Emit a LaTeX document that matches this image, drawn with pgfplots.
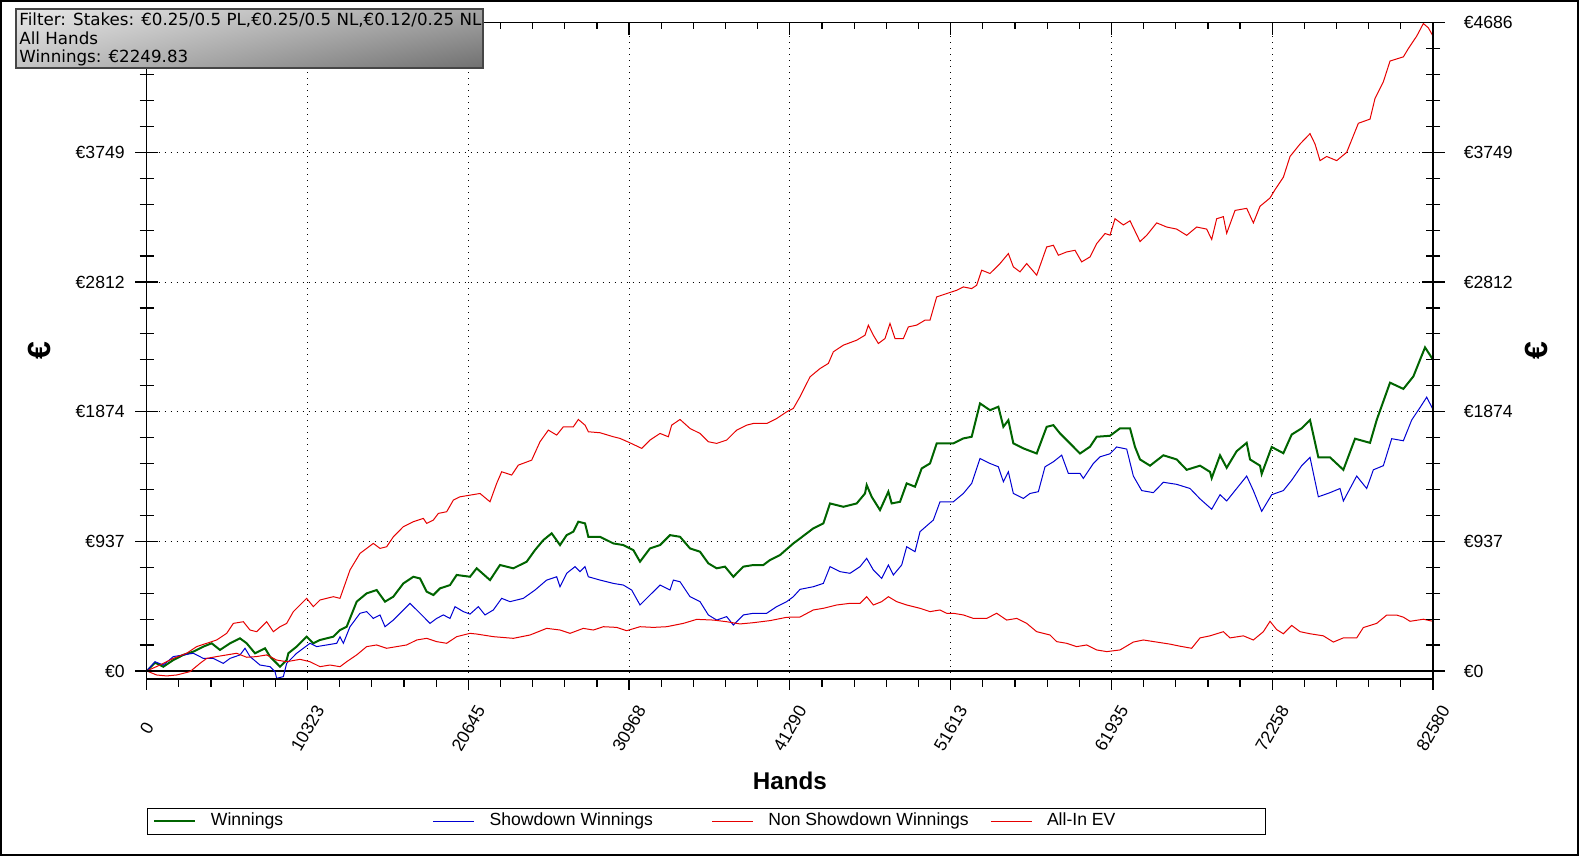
\documentclass[border=0pt]{standalone}
\usepackage{fontspec}
\setmainfont{Liberation Sans}
\newfontfamily\verd{DejaVu Sans}
\usepackage{pgfplots}
\pgfplotsset{compat=1.18}
\usetikzlibrary{shadings}
\definecolor{wgreen}{RGB}{0,100,0}
\definecolor{sblue}{RGB}{0,0,210}
\definecolor{nred}{RGB}{230,0,0}
\definecolor{bxUL}{RGB}{232,232,232}
\definecolor{bxUR}{RGB}{165,165,165}
\definecolor{bxLL}{RGB}{195,195,195}
\definecolor{bxLR}{RGB}{112,112,112}
\definecolor{bxB}{RGB}{70,70,70}
\begin{document}
\begin{tikzpicture}
\useasboundingbox (0,0) rectangle (789.5pt,428pt);
\pgfplotsset{common/.style={scale only axis, width=643.15pt, height=328.15pt,
  at={(73.35pt,88.5pt)}, anchor=south west,
  xmin=0, xmax=82580, ymin=-58, ymax=4686,
  scaled x ticks=false, scaled y ticks=false,
  axis line style={line width=0.6pt, black},
  tick style={line width=0.6pt, black},
  tick label style={font=\fontsize{8.8}{10}\selectfont}}}
% main axis: data, grid, bottom ticks, left labels, legend
\begin{axis}[common,
  xtick={0,10322.5,20645,30967.5,41290,51612.5,61935,72257.5,82580},
  xticklabels={0,10323,20645,30968,41290,51613,61935,72258,82580},
  minor x tick num=4, xtick pos=bottom, xtick align=outside,
  major tick length=5.5pt, minor tick length=4pt,
  xticklabel style={yshift=-19.2pt, rotate=60, anchor=center},
  ytick={0,937.2,1874.4,2811.6,3748.8,4686},
  yticklabels={€0,€937,€1874,€2812,€3749,{}},
  ytick pos=left, ytick style={draw=none},
  yticklabel style={xshift=-7.5pt},
  grid=major,
  major grid style={black, line width=0.5pt, dash pattern=on 0.5pt off 2.5pt},
  xlabel={Hands},
  xlabel style={at={(axis description cs:0.5,-0.1554)}, anchor=center, font=\bfseries\fontsize{12.1}{14}\selectfont},
  ylabel={€},
  ylabel style={at={(axis description cs:-0.083,0.5)}, anchor=center, font=\bfseries\fontsize{16}{18}\selectfont},
  legend style={at={(0,-0.19656)}, anchor=north west, draw=black, line width=0.5pt,
    inner xsep=3pt, inner ysep=2.35pt, legend columns=4,
    font=\fontsize{8.8}{10}\selectfont,
    nodes={inner sep=0pt, text height=6.3pt, text depth=1.9pt},
    /tikz/every odd column/.style={column sep=7.35pt},
    /tikz/every even column/.style={column sep=0pt}},
  legend cell align=left,
  legend image code/.code={\draw[#1] (0pt,0pt) -- (20.5pt,0pt);},
]
\draw[line width=0.6pt, black] (axis cs:0,0) -- (axis cs:82580,0);
\addplot[wgreen, line width=1pt] coordinates {
(0,0) (533,60) (1068,31) (1710,79) (2352,116) (2994,140) (3636,176) (4171,200) (4706,152) (5348,200)
(5990,236) (6418,200) (6953,128) (7595,164) (7916,104) (8558,31) (8986,79) (9093,128) (9628,176) (10270,248)
(10698,200) (11126,224) (11982,248) (12410,296) (12838,320) (13480,501) (14122,561) (14764,585) (15299,501) (15834,537)
(16476,633) (17118,681) (17546,669) (17974,573) (18402,549) (18830,597) (19472,621) (19900,694) (20756,681) (21184,742)
(22040,657) (22682,766) (23538,742) (24394,790) (24929,874) (25464,946) (25999,995) (26534,910) (26962,982) (27390,1007)
(27711,1079) (28139,1067) (28353,970) (29102,970) (29958,922) (30600,910) (31242,874) (31670,790) (32312,886) (32954,910)
(33596,982) (34238,970) (34880,886) (35522,862) (36057,778) (36592,742) (37127,754) (37662,681) (38304,754) (38946,766)
(39588,766) (40016,802) (40658,838) (41514,922) (41942,958) (42798,1031) (43440,1067) (43868,1211) (44724,1187) (45580,1211)
(46115,1283) (46222,1344) (46543,1259) (47078,1163) (47613,1296) (47827,1211) (48362,1223) (48790,1356) (49325,1332) (49753,1464)
(50288,1500) (50716,1645) (51358,1645) (51786,1645) (52428,1681) (52963,1693) (53498,1934) (54140,1885) (54675,1910) (54996,1765)
(55317,1813) (55638,1645) (56280,1609) (57136,1572) (57778,1765) (58206,1777) (58634,1717) (59276,1645) (59918,1572) (60560,1621)
(60988,1693) (61844,1700) (62486,1754) (63128,1754) (63449,1619) (63770,1529) (64412,1484) (65268,1559) (66124,1529) (66766,1454)
(67622,1484) (68264,1439) (68371,1394) (68906,1559) (69334,1469) (69976,1589) (70618,1649) (70832,1529) (71474,1484) (71581,1424)
(72223,1619) (72972,1574) (73507,1709) (74149,1754) (74684,1814) (75219,1544) (75968,1544) (76824,1454) (77573,1679) (78536,1649)
(78964,1814) (79820,2084) (80676,2039) (81318,2129) (82067,2339) (82580,2250)
};
\addlegendentry{\makebox[111pt][l]{Winnings}}
\addplot[sblue, line width=0.5pt] coordinates {
(0,0) (533,67) (1068,43) (1710,104) (2352,116) (2994,128) (3636,91) (4278,91) (4920,55) (5348,91)
(5990,116) (6311,164) (6632,104) (7274,43) (7916,31) (8237,-5) (8344,-53) (8772,-41) (8986,55) (9628,128)
(10056,164) (10484,200) (10912,176) (11554,188) (12196,200) (12410,248) (12624,200) (13052,320) (13694,417) (14122,429)
(14550,380) (14978,405) (15299,320) (15834,368) (16476,441) (16904,489) (17332,441) (17760,393) (18188,344) (18616,380)
(19044,405) (19472,380) (19793,465) (20328,429) (20756,411) (21291,465) (21719,405) (22254,441) (22789,525) (23324,501)
(24180,525) (24929,585) (25678,657) (26320,681) (26534,609) (26962,706) (27497,754) (27818,718) (28139,754) (28353,681)
(29102,657) (29958,633) (30600,621) (31135,585) (31670,477) (32312,549) (32954,621) (33596,585) (33810,657) (34238,645)
(34880,537) (35522,501) (36057,405) (36592,368) (37234,393) (37662,332) (38304,405) (38946,417) (39802,417) (40444,465)
(41086,501) (41514,537) (41942,590) (42798,609) (43440,633) (43868,754) (44510,718) (45152,706) (45794,754) (46222,814)
(46650,730) (47185,669) (47613,766) (47934,694) (48469,766) (48790,898) (49325,862) (49646,1007) (50502,1091) (50930,1223)
(51786,1223) (52428,1283) (52963,1356) (53498,1536) (54140,1500) (54675,1476) (54996,1368) (55317,1440) (55638,1283) (56280,1247)
(56708,1283) (57243,1296) (57671,1476) (58206,1512) (58741,1560) (59169,1428) (59918,1428) (60132,1392) (60774,1500) (61202,1548)
(61844,1570) (62272,1619) (62914,1604) (63342,1409) (63877,1304) (64626,1289) (65268,1364) (66124,1349) (66980,1319) (67622,1244)
(68371,1169) (68906,1274) (69334,1229) (69976,1319) (70618,1409) (71046,1304) (71581,1154) (72223,1274) (72972,1304) (73507,1379)
(74149,1484) (74684,1544) (75219,1259) (75968,1289) (76610,1319) (76824,1229) (77680,1409) (78322,1319) (78750,1454) (79392,1484)
(79927,1679) (80676,1664) (81211,1814) (81746,1904) (82174,1979) (82580,1890)
};
\addlegendentry{\makebox[111pt][l]{Showdown Winnings}}
\addplot[nred, line width=0.5pt] coordinates {
(0,0) (640,-29) (1282,-36) (1924,-29) (2780,-5) (3422,55) (3850,91) (4492,104) (5134,116) (5776,128)
(6418,99) (7060,104) (7702,116) (8344,79) (8986,67) (9842,84) (10484,67) (11126,31) (11768,43) (12410,31)
(12838,67) (13480,116) (14122,176) (14764,188) (15406,164) (16048,176) (16690,188) (17332,224) (17974,236) (18616,212)
(19258,200) (19900,248) (20756,272) (21184,267) (22254,248) (23538,236) (24608,260) (25678,308) (26534,296) (27176,272)
(28032,308) (28674,296) (29316,320) (30172,315) (30814,291) (31670,320) (32526,315) (33382,320) (34452,344) (35308,373)
(36378,368) (37234,356) (38090,340) (38946,349) (40016,364) (41086,388) (41942,390) (42798,441) (43440,453) (44296,477)
(45152,489) (45794,489) (46222,537) (46650,477) (47185,501) (47613,537) (48148,501) (48790,477) (49646,453) (50288,429)
(50930,441) (51358,417) (51786,417) (52428,405) (53070,380) (53926,380) (54568,417) (55210,368) (55852,380) (56494,344)
(57136,284) (57992,260) (58420,212) (59062,200) (59704,176) (60346,188) (60988,152) (61630,140) (62486,152) (63342,209)
(63984,224) (64840,209) (65696,194) (66338,179) (67087,164) (67622,239) (68264,254) (69120,284) (69548,239) (70404,254)
(71046,224) (71688,284) (72116,359) (72544,299) (72972,269) (73507,329) (74042,284) (74684,269) (75540,254) (76182,209)
(76824,239) (77680,239) (78108,314) (78964,344) (79606,404) (80248,404) (80676,389) (81104,359) (81960,374) (82580,359)
};
\addlegendentry{\makebox[111pt][l]{Non Showdown Winnings}}
\addplot[nred, line width=0.5pt] coordinates {
(0,0) (854,43) (1710,91) (2566,128) (3208,176) (3850,200) (4492,224) (5134,272) (5562,344) (6204,356)
(6632,296) (7060,284) (7702,356) (8130,284) (8558,320) (8986,344) (9414,429) (10270,525) (10698,465) (11126,513)
(11982,537) (12410,525) (13052,730) (13694,850) (14550,922) (14978,886) (15406,898) (15834,970) (16476,1043) (17118,1079)
(17760,1103) (17974,1067) (18402,1091) (18723,1139) (19258,1151) (19686,1235) (20114,1259) (20756,1271) (21398,1283) (22040,1223)
(22468,1356) (22789,1440) (23431,1416) (23859,1488) (24715,1524) (25250,1657) (25785,1741) (26320,1705) (26748,1765) (27390,1765)
(27711,1818) (28139,1777) (28353,1729) (29102,1722) (29958,1693) (30386,1681) (31028,1649) (31777,1609) (32312,1669) (32954,1717)
(33489,1693) (33703,1777) (34238,1818) (34880,1753) (35522,1717) (36057,1657) (36592,1645) (37234,1669) (37876,1741) (38518,1777)
(38946,1789) (39802,1789) (40444,1825) (41086,1873) (41514,1898) (41942,1982) (42584,2126) (43226,2186) (43761,2223) (44082,2307)
(44724,2355) (45580,2391) (46115,2427) (46329,2500) (46650,2427) (46971,2367) (47399,2403) (47720,2512) (48041,2403) (48576,2403)
(48897,2487) (49432,2500) (49967,2536) (50288,2536) (50716,2704) (51358,2728) (52000,2752) (52428,2776) (52963,2764) (53284,2788)
(53605,2897) (54140,2873) (54782,2945) (55317,3017) (55638,2921) (56066,2885) (56494,2945) (57136,2861) (57778,3065) (58206,3077)
(58527,3005) (59062,3029) (59597,3041) (60025,2957) (60560,2993) (60988,3089) (61523,3162) (61844,3150) (62165,3269) (62700,3224)
(63128,3254) (63449,3179) (63770,3104) (64198,3149) (64840,3239) (65482,3209) (66124,3194) (66766,3149) (67408,3209) (68050,3194)
(68371,3119) (68692,3269) (69120,3284) (69334,3164) (69869,3329) (70618,3344) (71046,3239) (71474,3359) (72116,3419) (72437,3479)
(72972,3569) (73400,3719) (74042,3809) (74684,3884) (75005,3809) (75326,3689) (75754,3719) (76396,3689) (77038,3749) (77466,3869)
(77787,3959) (78536,3989) (78857,4139) (79392,4259) (79820,4409) (80676,4439) (80997,4499) (81532,4589) (81960,4680) (82281,4649)
(82580,4589)
};
\addlegendentry{\makebox[106pt][l]{All-In EV}}
\end{axis}
% y ticks on both sides, right labels
\begin{axis}[common,
  xtick=\empty,
  ytick={0,937.2,1874.4,2811.6,3748.8,4686},
  yticklabels={€0,€937,€1874,€2812,€3749,€4686},
  ytick pos=both, yticklabel pos=right, ytick align=center,
  minor y tick num=4, major tick length=11.5pt, minor tick length=7pt,
  yticklabel style={xshift=6.1pt},
  ylabel={€},
  ylabel style={at={(axis description cs:1.0801,0.5)}, anchor=center, rotate=0, font=\bfseries\fontsize{16}{18}\selectfont},
]
\end{axis}
% top x ticks pointing inside
\begin{axis}[common,
  ytick=\empty,
  xtick={0,10322.5,20645,30967.5,41290,51612.5,61935,72257.5,82580},
  xticklabels={},
  minor x tick num=4, xtick pos=top, xtick align=inside,
  major tick length=6pt, minor tick length=3.3pt,
]
\end{axis}
% filter box
\shade[upper left=bxUL, upper right=bxUR, lower left=bxLL, lower right=bxLR] (8pt,394pt) rectangle (241.5pt,423.5pt);
\draw[bxB, line width=0.6pt] (8pt,394pt) rectangle (241.5pt,423.5pt);
\begin{scope}[every node/.style={anchor=base west, inner sep=0pt, font=\verd\fontsize{8.35}{10}\selectfont}]
\node at (9.5pt,415.15pt) {Filter: Stakes: €0.25/0.5 PL,€0.25/0.5 NL,€0.12/0.25 NL};
\node at (9.5pt,405.85pt) {All Hands};
\node at (9.5pt,396.65pt) {Winnings: €2249.83};
\end{scope}
% outer frame
\draw[black, line width=1pt] (0.5pt,0.5pt) rectangle (789pt,427.5pt);
\end{tikzpicture}
\end{document}
